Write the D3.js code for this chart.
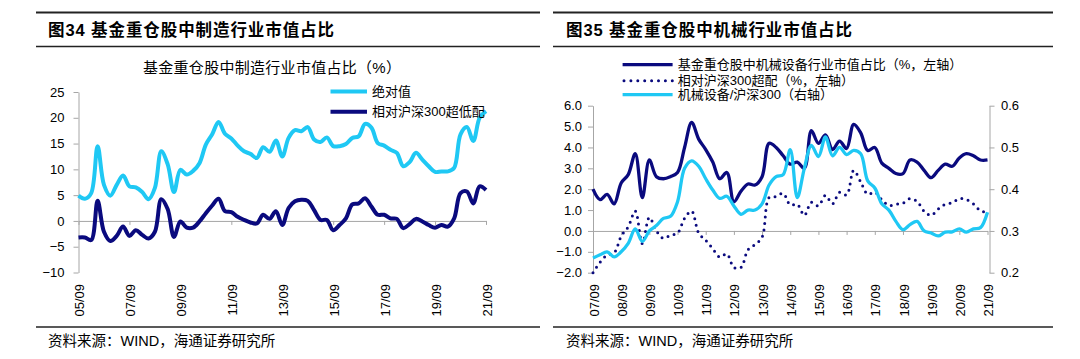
<!DOCTYPE html>
<html><head><meta charset="utf-8">
<script src="https://cdn.jsdelivr.net/npm/d3@7"></script>
<style>
html,body{margin:0;padding:0;background:#fff;}
text{font-family:"Liberation Sans",Arial,"Noto Sans CJK SC",sans-serif;fill:#000;}
</style></head>
<body>
<script>
// ---------- data ----------
const leftQuarters = "05/09 05/12 06/03 06/06 06/09 06/12 07/03 07/06 07/09 07/12 08/03 08/06 08/09 08/12 09/03 09/06 09/09 09/12 10/03 10/06 10/09 10/12 11/03 11/06 11/09 11/12 12/03 12/06 12/09 12/12 13/03 13/06 13/09 13/12 14/03 14/06 14/09 14/12 15/03 15/06 15/09 15/12 16/03 16/06 16/09 16/12 17/03 17/06 17/09 17/12 18/03 18/06 18/09 18/12 19/03 19/06 19/09 19/12 20/03 20/06 20/09 20/12 21/03 21/06 21/09".split(" ");
const leftAbsolute = [4.9,4.3,5.4,14.5,7.0,4.9,7.0,8.8,6.7,6.5, 5.6,4.2,6.4,13.5,11.0,5.6,9.9,9.0,9.7,11.2, 14.8,16.8,19.2,16.9,16.0,14.6,13.5,13.0,12.2,14.3, 13.4,15.6,12.5,16.1,17.6,17.4,18.2,15.8,15.3,16.2, 14.5,14.5,14.9,16.1,16.4,18.8,18.1,15.1,14.6,13.8, 13.2,10.6,11.4,13.2,11.9,10.6,9.5,9.6,9.6,10.3, 16.8,18.2,15.5,20.0,21.3];
const leftRelative = [-3.2,-3.2,-3.7,3.9,-2.1,-3.9,-2.9,-1.1,-2.9,-1.8, -2.7,-3.4,-2.1,4.2,2.3,-3.1,-0.1,-1.3,-1.3,-0.1, 1.5,3.0,4.3,1.9,1.7,0.8,0.2,-0.3,-0.5,1.2, 0.4,1.9,-0.8,2.5,3.8,4.1,3.9,2.1,0.2,0.2, -1.8,-0.8,0.5,3.2,3.4,4.4,2.8,1.2,1.2,0.5, 0.4,-1.4,-0.6,0.4,-0.1,-0.8,-1.3,-0.8,-1.1,0.5, 5.4,5.7,3.4,6.7,6.0];
const leftXTicks = ["05/09","07/09","09/09","11/09","13/09","15/09","17/09","19/09","21/09"];
const leftYTicks = [-10,-5,0,5,10,15,20,25];

const rightQuarters = "07/09 07/12 08/03 08/06 08/09 08/12 09/03 09/06 09/09 09/12 10/03 10/06 10/09 10/12 11/03 11/06 11/09 11/12 12/03 12/06 12/09 12/12 13/03 13/06 13/09 13/12 14/03 14/06 14/09 14/12 15/03 15/06 15/09 15/12 16/03 16/06 16/09 16/12 17/03 17/06 17/09 17/12 18/03 18/06 18/09 18/12 19/03 19/06 19/09 19/12 20/03 20/06 20/09 20/12 21/03 21/06 21/09".split(" ");
const machShare = [2.0,1.5,1.75,1.3,2.3,2.7,3.7,1.6,3.4,2.6, 2.5,2.6,2.8,4.0,5.2,4.4,3.9,3.3,2.5,2.8, 1.4,1.9,2.25,2.2,2.6,4.2,4.0,3.6,3.2,3.3, 3.0,4.8,4.2,4.6,3.9,4.3,3.95,5.1,4.7,3.85, 4.0,3.25,3.0,2.75,2.75,3.4,3.3,2.9,2.55,2.9, 3.2,3.1,3.5,3.7,3.6,3.4,3.4];
const machOverweight = [-2.0,-1.5,-1.15,-1.05,-0.25,0.2,0.95,-0.6,0.65,0.0, -0.35,-0.2,-0.1,0.6,0.95,-0.1,-0.45,-0.85,-1.25,-1.1, -1.75,-1.75,-0.9,-0.65,-0.3,1.6,1.65,1.8,1.25,1.28, 0.75,1.37,1.2,1.7,1.3,1.85,1.72,2.9,2.35,1.76, 1.85,1.5,1.22,1.28,1.33,1.55,1.42,0.95,0.75,1.05, 1.28,1.35,1.55,1.5,1.3,0.97,0.9];
const machRatio = [0.235,0.243,0.25,0.238,0.25,0.27,0.305,0.275,0.30,0.313, 0.33,0.335,0.37,0.45,0.468,0.455,0.425,0.398,0.378,0.383, 0.36,0.34,0.35,0.35,0.365,0.41,0.43,0.435,0.495,0.38, 0.45,0.505,0.478,0.525,0.48,0.50,0.483,0.493,0.485,0.42, 0.403,0.365,0.35,0.323,0.303,0.315,0.323,0.30,0.295,0.288, 0.297,0.298,0.305,0.297,0.305,0.308,0.345];
const rightXTicks = ["07/09","08/09","09/09","10/09","11/09","12/09","13/09","14/09","15/09","16/09","17/09","18/09","19/09","20/09","21/09"];
const rightYLeftTicks = [-2,-1,0,1,2,3,4,5,6];
const rightYRightTicks = [0.2,0.3,0.4,0.5,0.6];

const LIGHT = "#1FC8F4", NAVY = "#0A0A7E", AXIS = "#a6a6a6";

// ---------- drawing ----------
const svg = d3.select("body").append("svg").attr("width",1080).attr("height",359);

function frame(x0, x1, title, tx) {
  svg.append("line").attr("x1",x0).attr("x2",x1).attr("y1",12.5).attr("y2",12.5).attr("stroke","#222").attr("stroke-width",1.8);
  svg.append("line").attr("x1",x0).attr("x2",x1).attr("y1",46.5).attr("y2",46.5).attr("stroke","#222").attr("stroke-width",1.4);
  svg.append("line").attr("x1",x0).attr("x2",x1).attr("y1",327).attr("y2",327).attr("stroke","#222").attr("stroke-width",1.4);
  svg.append("text").attr("x",tx).attr("y",36).attr("font-size",16.5).attr("font-weight","bold")
     .attr("textLength",286).attr("lengthAdjust","spacing").text(title);
  svg.append("text").attr("x",tx).attr("y",346).attr("font-size",14.5).attr("fill","#222").text("资料来源：WIND，海通证券研究所");
}
frame(36, 540, "图34 基金重仓股中制造行业市值占比", 48);
frame(553, 1053, "图35 基金重仓股中机械行业市值占比", 566);

function styleAxis(g){
  g.selectAll("path,line").attr("stroke",AXIS).attr("stroke-width",1);
  g.selectAll("text").attr("font-size",13).attr("fill","#111");
}
function xLabels(scale, ticks, y){
  svg.append("g").selectAll("text").data(ticks).join("text")
    .attr("transform",d=>`translate(${scale(d)+1},${y}) rotate(-90)`)
    .attr("text-anchor","end").attr("dy","0.35em").attr("font-size",13).attr("fill","#111").text(d=>d);
}

// ----- left chart -----
const xL = d3.scalePoint().domain(leftQuarters).range([78.5, 486]);
const yL = d3.scaleLinear().domain([-10,25]).range([272.5, 92]);

svg.append("text").attr("x",272).attr("y",73).attr("text-anchor","middle").attr("font-size",15)
  .attr("textLength",258).attr("lengthAdjust","spacing").text("基金重仓股中制造行业市值占比（%）");

svg.append("g").attr("transform","translate(78.5,0)")
  .call(d3.axisLeft(yL).tickValues(leftYTicks).tickSize(5).tickSizeOuter(0).tickPadding(9)).call(styleAxis);
svg.append("g").attr("transform",`translate(0,${yL(0)})`)
  .call(d3.axisBottom(xL).tickValues(leftXTicks).tickSize(4).tickSizeOuter(0).tickFormat("")).call(styleAxis);
xLabels(xL, leftXTicks, 284);

const lineL = d3.line().x((d,i)=>xL(leftQuarters[i])).y(d=>yL(d)).curve(d3.curveCatmullRom.alpha(0.5));
svg.append("path").attr("d",lineL(leftAbsolute)).attr("fill","none").attr("stroke",LIGHT).attr("stroke-width",4).attr("stroke-linejoin","round");
svg.append("path").attr("d",lineL(leftRelative)).attr("fill","none").attr("stroke",NAVY).attr("stroke-width",4).attr("stroke-linejoin","round");

// left legend
svg.append("line").attr("x1",330.5).attr("x2",367).attr("y1",91.5).attr("y2",91.5).attr("stroke",LIGHT).attr("stroke-width",4);
svg.append("text").attr("x",372).attr("y",96).attr("font-size",13).text("绝对值");
svg.append("line").attr("x1",330.5).attr("x2",367).attr("y1",111.7).attr("y2",111.7).attr("stroke",NAVY).attr("stroke-width",4);
svg.append("text").attr("x",372).attr("y",116.3).attr("font-size",13).text("相对沪深300超低配");

// ----- right chart -----
const xR = d3.scalePoint().domain(rightQuarters).range([593, 987.5]);
const yRL = d3.scaleLinear().domain([-2,6]).range([272.7, 105.7]);
const yRR = d3.scaleLinear().domain([0.2,0.6]).range([272.7, 105.7]);

svg.append("g").attr("transform","translate(593,0)")
  .call(d3.axisLeft(yRL).tickValues(rightYLeftTicks).tickSize(5).tickSizeOuter(0).tickPadding(6).tickFormat(d3.format(".1f"))).call(styleAxis);
svg.append("g").attr("transform","translate(989.5,0)")
  .call(d3.axisRight(yRR).tickValues(rightYRightTicks).tickSize(5).tickSizeOuter(0).tickPadding(6.5).tickFormat(d3.format(".1f"))).call(styleAxis);
svg.append("g").attr("transform",`translate(0,${yRL(0)})`)
  .call(d3.axisBottom(xR).tickValues(rightXTicks).tickSize(4).tickSizeOuter(0).tickFormat("")).call(styleAxis);
xLabels(xR, rightXTicks, 284);

const lineRL = d3.line().x((d,i)=>xR(rightQuarters[i])).y(d=>yRL(d)).curve(d3.curveCatmullRom.alpha(0.5));
const lineRR = d3.line().x((d,i)=>xR(rightQuarters[i])).y(d=>yRR(d)).curve(d3.curveCatmullRom.alpha(0.5));
svg.append("path").attr("d",lineRL(machShare)).attr("fill","none").attr("stroke",NAVY).attr("stroke-width",3.3).attr("stroke-linejoin","round");
svg.append("path").attr("d",lineRL(machOverweight)).attr("fill","none").attr("stroke",NAVY).attr("stroke-width",3)
  .attr("stroke-linecap","round").attr("stroke-dasharray","0 6.5");
svg.append("path").attr("d",lineRR(machRatio)).attr("fill","none").attr("stroke",LIGHT).attr("stroke-width",3.3).attr("stroke-linejoin","round");

// right legend
svg.append("line").attr("x1",622.6).attr("x2",672.6).attr("y1",64.7).attr("y2",64.7).attr("stroke",NAVY).attr("stroke-width",3.3);
svg.append("text").attr("x",677.7).attr("y",69.2).attr("font-size",13).text("基金重仓股中机械设备行业市值占比（%，左轴）");
svg.append("line").attr("x1",624).attr("x2",672.6).attr("y1",80.7).attr("y2",80.7).attr("stroke",NAVY).attr("stroke-width",3)
  .attr("stroke-linecap","round").attr("stroke-dasharray","0 6.9");
svg.append("text").attr("x",677.7).attr("y",85.2).attr("font-size",13).text("相对沪深300超配（%，左轴）");
svg.append("line").attr("x1",622.6).attr("x2",672.6).attr("y1",94.7).attr("y2",94.7).attr("stroke",LIGHT).attr("stroke-width",3.3);
svg.append("text").attr("x",677.7).attr("y",99.2).attr("font-size",13).text("机械设备/沪深300（右轴）");
</script>
</body></html>
